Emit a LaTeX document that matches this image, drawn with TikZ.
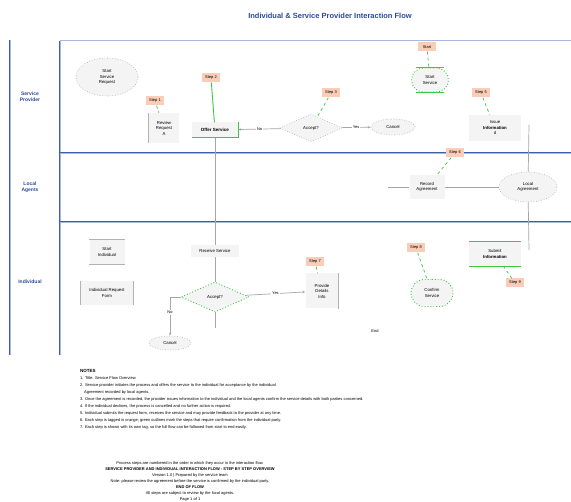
\documentclass[tikz,border=0pt]{standalone}
\usepackage{fontspec}
\setmainfont{Liberation Sans}
\usetikzlibrary{shapes.geometric,shapes.misc,arrows.meta}
\definecolor{laneblue}{HTML}{3F5FA8}
\definecolor{lanelight}{HTML}{A9B9DE}
\definecolor{titleblue}{HTML}{2D4B9B}
\definecolor{tagfill}{HTML}{F9CDB8}
\definecolor{okgreen}{HTML}{3CC83C}
\definecolor{nodefill}{HTML}{F4F4F4}
\tikzset{
  lanetxt/.style={font=\fontsize{5}{6}\selectfont\bfseries, text=titleblue, align=center},
  tagbox/.style={fill=tagfill, font=\fontsize{4}{5}\selectfont, inner sep=1.2pt, minimum width=18pt, minimum height=9pt},
  procbox/.style={fill=nodefill, font=\fontsize{4.3}{5.5}\selectfont, align=center, inner sep=1.5pt},
  decbox/.style={diamond, aspect=2.2, fill=nodefill, font=\fontsize{4.3}{5.5}\selectfont, inner sep=1pt},
  termbox/.style={ellipse, fill=nodefill, font=\fontsize{4.3}{5.5}\selectfont, align=center, inner sep=1pt},
  greydot/.style={draw=gray!70, dotted, line width=0.6pt},
  greendot/.style={draw=okgreen, dotted, line width=0.9pt},
  link/.style={draw=gray!70, line width=0.7pt},
  taglink/.style={draw=okgreen, dashed, line width=0.7pt},
  lbl/.style={font=\fontsize{4}{5}\selectfont, fill=white, inner sep=0.8pt},
  note/.style={font=\fontsize{4}{5}\selectfont, anchor=west, inner sep=0pt},
  cnote/.style={font=\fontsize{4}{5}\selectfont, inner sep=0pt}
}
\begin{document}
\begin{tikzpicture}[x=1pt,y=-1pt]
\useasboundingbox (0,0) rectangle (571,502);
\fill[white] (0,0) rectangle (571,502);
% title
\node[font=\fontsize{7.5}{9}\selectfont\bfseries, text=titleblue] (title) at (330,16) {Individual \& Service Provider Interaction Flow};
% lanes
\draw[lanelight, line width=1.6pt] (10,40) -- (10,355);
\draw[laneblue, line width=0.7pt] (9.2,40) -- (9.2,355);
\draw[lanelight, line width=1pt] (60,41) -- (571,41);
\draw[lanelight, line width=1pt] (60,41) -- (60,355);
\draw[laneblue, line width=0.5pt] (59.5,41) -- (59.5,355);
\foreach \yy in {153,222}{
  \draw[lanelight, line width=2pt] (60,\yy) -- (571,\yy);
  \draw[laneblue, line width=0.9pt] (60,\yy-0.5) -- (571,\yy-0.5);
}
\node[lanetxt] (laneA) at (30,97) {Service\\Provider};
\node[lanetxt] (laneB) at (30,187) {Local\\Agents};
\node[lanetxt] (laneC) at (30,282) {Individual};

% ---------- Service provider lane ----------
\node[termbox, minimum width=62pt, minimum height=38pt, greydot] (start) at (107,77) {Start\\Service\\Request};
\node[tagbox] (t1) at (155,101) {Step 1};
\node[procbox, minimum width=30pt, minimum height=30pt] (review) at (164,128) {Review\\Request\\A};
\draw[gray!60, line width=1.3pt] (review.north west) -- (review.south west);
\node[tagbox] (t2) at (211,78) {Step 2};
\node[procbox, minimum width=46pt, minimum height=15pt, font=\fontsize{4.5}{5.5}\selectfont\bfseries] (offer) at (215,130) {Offer Service};
\draw[okgreen, line width=0.9pt] (offer.north east) -- (offer.south east) -- (offer.south west);
\node[decbox, minimum width=62pt, minimum height=28pt, greydot] (acc1) at (311,128) {Accept?};
\node[tagbox] (t3) at (331,93) {Step 3};
\node[termbox, minimum width=44pt, minimum height=16pt, greydot] (cancel1) at (393,127) {Cancel};
\node[tagbox] (t4) at (427,47) {Start};
\node[procbox, rounded rectangle, minimum width=40pt, minimum height=24pt, greendot] (srv) at (430,80) {Start\\Service};
\draw[okgreen, line width=1.1pt] ([xshift=-14pt]srv.north) -- ([xshift=14pt]srv.north);
\draw[okgreen, line width=1.1pt] ([xshift=-14pt]srv.south) -- ([xshift=14pt]srv.south);
\node[tagbox] (t5) at (481,93) {Step 5};
\node[procbox, minimum width=52pt, minimum height=26pt] (issue) at (495,128) {Issue\\\textbf{Information}\\d};

% ---------- Local agents lane ----------
\node[tagbox] (t6) at (455,153) {Step 6};
\node[procbox, minimum width=35pt, minimum height=24pt] (record) at (427,187) {Record\\Agreement};
\node[termbox, minimum width=58pt, minimum height=30pt, greydot] (local) at (528,187) {Local\\Agreement};
\coordinate (recL) at (388,187);
\coordinate (vtop) at (529,125);
\coordinate (vbot) at (529,250);

% ---------- Individual lane ----------
\node[procbox, minimum width=35pt, minimum height=25pt] (indstart) at (107,252) {Start\\Individual};
\draw[gray!60, line width=0.8pt] (indstart.north west) -- (indstart.north east) (indstart.south west) -- (indstart.south east);
\node[procbox, minimum width=52pt, minimum height=24pt] (form) at (107,293) {Individual Request\\Form};
\draw[gray!60, line width=1pt] (form.north west) -- (form.south west) (form.north east) -- (form.south east);
\node[procbox, minimum width=48pt, minimum height=12pt] (recv) at (215,251) {Receive Service};
\node[decbox, minimum width=68pt, minimum height=30pt, greendot] (acc2) at (215,297) {Accept?};
\coordinate (acc2end) at (215,328);
\node[termbox, minimum width=42pt, minimum height=14pt, greydot] (cancel2) at (170,343) {Cancel};
\node[tagbox] (t7) at (315,262) {Step 7};
\node[procbox, minimum width=33pt, minimum height=35pt] (detail) at (322,291) {Provide\\Details\\Info};
\draw[gray!60, line width=1.3pt] (detail.north east) -- (detail.south east);
\node[tagbox] (t8) at (416,248) {Step 8};
\node[procbox, rounded rectangle, minimum width=45pt, minimum height=27pt, greendot] (conf) at (432,293) {Confirm\\Service};
\node[procbox, minimum width=52pt, minimum height=25pt] (submit) at (495,254) {Submit\\\textbf{Information}};
\draw[okgreen, line width=1.1pt] (submit.north west) -- (submit.north east) (submit.south west) -- (submit.south east);
\node[tagbox] (t9) at (515,283) {Step 9};
\node[font=\fontsize{4}{5}\selectfont] (endtxt) at (375,331) {End};

% ---------- connectors ----------
\draw[taglink] (t1) -- (review);
\draw[okgreen, line width=0.9pt] (t2) -- (offer);
\draw[taglink] (t3) -- (acc1);
\draw[taglink] (t4) -- (srv);
\draw[taglink] (t5) -- (issue);
\draw[taglink] (t6) -- (record);
\draw[taglink] (t7) -- (detail);
\draw[taglink] (t8) -- (conf);
\draw[taglink] (t9) -- (submit);
\draw[link, -{Stealth[length=3pt]}] (acc1) -- node[lbl]{No} (offer);
\draw[link, -{Stealth[length=3pt]}] (acc1) -- node[lbl]{Yes} (cancel1);
\draw[link] (offer) -- (recv);
\draw[link] (recv) -- (acc2);
\draw[link] (acc2) -- (acc2end);
\draw[link, -{Stealth[length=3pt]}] (acc2) -- node[lbl]{Yes} (detail);
\draw[link, -{Stealth[length=3pt]}] (acc2.west) -| node[lbl, pos=0.7]{No} (cancel2);
\draw[link] (recL) -- (record);
\draw[link] (record) -- (local);
\draw[link] (vtop) -- (local);
\draw[link] (local) -- (vbot);

% ---------- notes ----------
\node[note, font=\fontsize{4.5}{5}\selectfont\bfseries] (nh) at (80,371) {NOTES};
\node[note] (n1) at (80,378) {1. Title: Service Flow Overview};
\node[note] (n2) at (80,385) {2. Service provider initiates the process and offers the service to the individual for acceptance by the individual.};
\node[note] (n3) at (84,392) {Agreement recorded by local agents.};
\node[note] (n4) at (80,399) {3. Once the agreement is recorded, the provider issues information to the individual and the local agents confirm the service details with both parties concerned.};
\node[note] (n5) at (80,406) {4. If the individual declines, the process is cancelled and no further action is required.};
\node[note] (n6) at (80,413) {5. Individual submits the request form, receives the service and may provide feedback to the provider at any time.};
\node[note] (n7) at (80,420) {6. Each step is tagged in orange; green outlines mark the steps that require confirmation from the individual party.};
\node[note] (n8) at (80,427) {7. Each step is shown with its own tag, so the full flow can be followed from start to end easily.};

\node[cnote] (c1) at (190,463) {Process steps are numbered in the order in which they occur in the interaction flow.};
\node[cnote, font=\fontsize{4}{5}\selectfont\bfseries] (c2) at (190,469) {SERVICE PROVIDER AND INDIVIDUAL INTERACTION FLOW - STEP BY STEP OVERVIEW};
\node[cnote] (c3) at (190,475) {Version 1.0 | Prepared by the service team};
\node[cnote] (c4) at (190,481) {Note: please review the agreement before the service is confirmed by the individual party.};
\node[cnote, font=\fontsize{4}{5}\selectfont\bfseries] (c5) at (190,487) {END OF FLOW};
\node[cnote] (c6) at (190,493) {All steps are subject to review by the local agents.};
\node[cnote] (c7) at (190,499) {Page 1 of 1};
\end{tikzpicture}
\end{document}
